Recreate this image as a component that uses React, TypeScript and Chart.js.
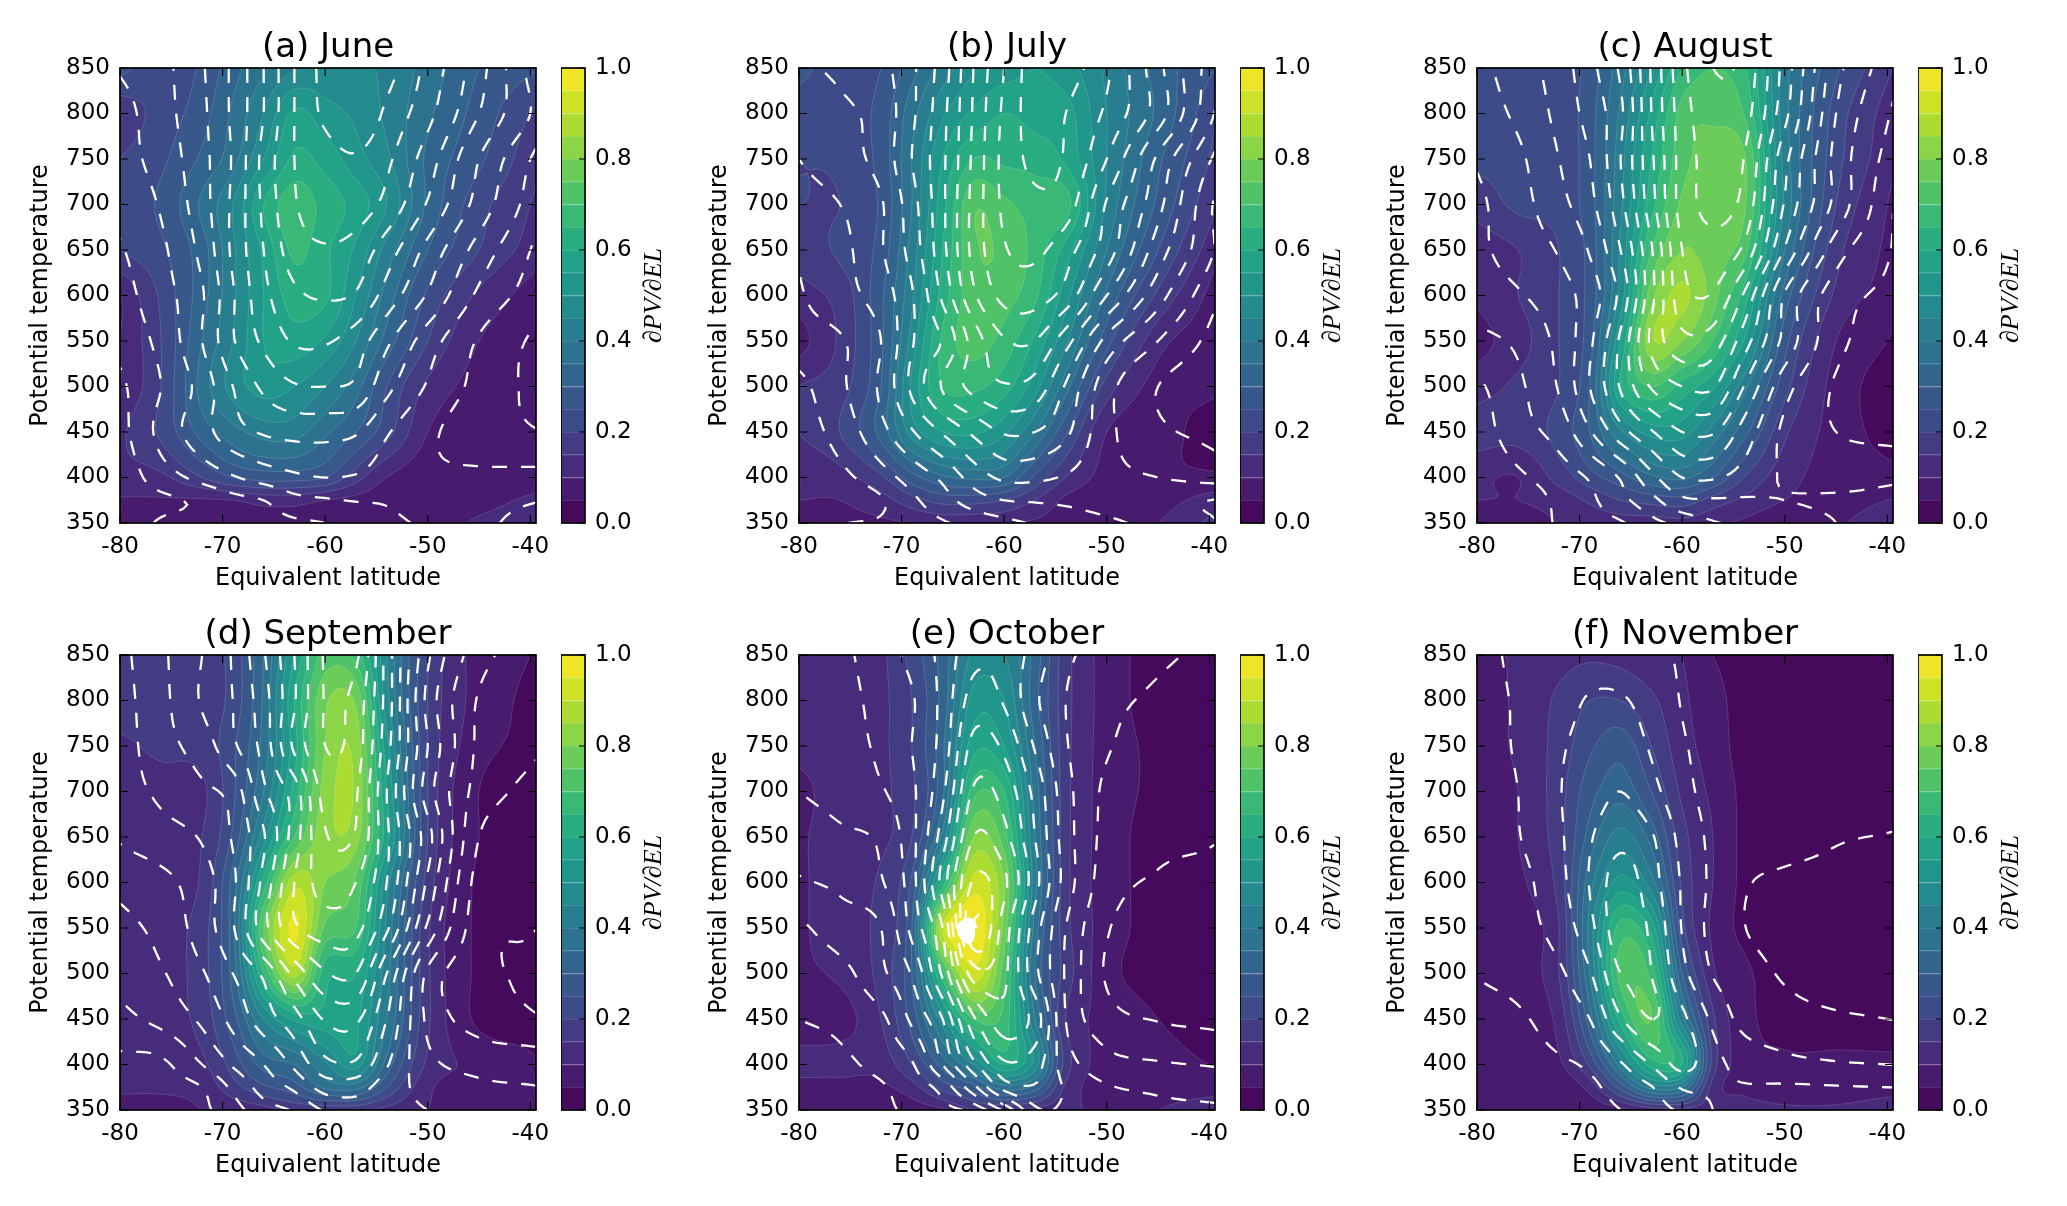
import React, { useEffect, useRef } from "react";
import { Chart, registerables } from "chart.js";

Chart.register(...registerables);

const LATS = [-80, -76, -72, -69, -66, -63, -60, -57, -54, -50, -45, -40];
const THETAS = [850, 800, 750, 700, 650, 600, 550, 500, 450, 400, 375, 350];
const X_TICKS = [-80, -70, -60, -50, -40];
const BAR_TICKS = [0, 0.2, 0.4, 0.6, 0.8, 1];

const PV_JUNE = [
  [.27,.21,.26,.33,.39,.44,.46,.46,.44,.38,.30,.26],
  [.17,.22,.28,.36,.45,.56,.52,.49,.44,.36,.28,.20],
  [.20,.24,.31,.38,.50,.61,.58,.52,.46,.34,.26,.17],
  [.22,.26,.36,.45,.60,.68,.63,.58,.50,.34,.22,.15],
  [.20,.24,.33,.44,.56,.66,.61,.54,.43,.30,.20,.13],
  [.10,.21,.33,.44,.55,.62,.61,.50,.38,.24,.14,.08],
  [.10,.20,.35,.45,.55,.58,.54,.45,.33,.20,.10,.07],
  [.10,.20,.37,.47,.52,.50,.45,.37,.25,.14,.08,.07],
  [.14,.21,.32,.38,.42,.42,.36,.30,.22,.10,.07,.07],
  [.13,.14,.20,.25,.27,.27,.25,.17,.10,.07,.06,.07],
  [.095,.095,.095,.10,.12,.12,.10,.085,.07,.07,.08,.11],
  [.07,.07,.07,.07,.07,.07,.07,.07,.07,.07,.11,.14],
];
const DASH_JUNE = [
  [3.1,3.7,4.9,6.2,8.0,10,11.3,11.8,11.4,9.7,7.4,4.7],
  [2.6,3.6,4.8,6.2,8,10,11.2,11.8,10.8,9.3,7,5],
  [2.6,3.4,4.7,6.1,8.3,10,10.6,10.9,10.2,8.5,6,4],
  [2.3,3.1,4.6,6.2,8.2,9.9,10.5,10.5,9.7,7.9,5.6,3.6],
  [1.9,2.8,4.3,6.2,8,9.5,9.9,9.6,8.5,6.7,4.6,3],
  [1.6,2.6,3.9,5.9,7.7,8.8,9.1,8.9,7.6,5.9,3.8,2.6],
  [1.3,2.3,4,5.9,7.2,8.1,8.1,7.5,6.2,4.5,2.9,1.9],
  [.8,2,3.4,5,6.2,6.9,7,6.8,5.3,3.9,2.7,1.8],
  [.6,2.3,3.6,4.6,5.1,5.3,5.3,5.1,4.1,3.2,2.5,2.1],
  [.3,1.5,2.3,2.9,3.4,3.8,4,3.9,3.5,3.2,3.2,3.3],
  [.4,.8,1.2,1.7,2,2.7,2.9,3.05,3.1,3.5,3.6,3.9],
  [.4,1.1,1.3,1.5,1.6,1.8,2,2.3,2.7,3.2,3.7,4.5],
];
const LEVELS_JUNE = [1,2,3,4,5,6,7,8,9,10,11];

const PV_JULY = [
  [.27,.22,.25,.33,.42,.49,.52,.55,.52,.44,.33,.26],
  [.22,.22,.27,.38,.49,.56,.60,.58,.57,.45,.34,.22],
  [.20,.21,.27,.40,.55,.65,.64,.63,.59,.45,.31,.20],
  [.20,.20,.26,.40,.58,.74,.71,.68,.67,.44,.29,.17],
  [.17,.21,.27,.42,.60,.74,.74,.68,.58,.40,.25,.13],
  [.13,.17,.29,.44,.62,.73,.72,.66,.52,.34,.19,.09],
  [.08,.16,.29,.47,.66,.72,.68,.59,.46,.27,.12,.07],
  [.15,.18,.30,.51,.65,.66,.62,.52,.37,.18,.08,.06],
  [.15,.20,.32,.47,.55,.56,.51,.40,.26,.10,.07,.03],
  [.10,.13,.19,.28,.34,.36,.35,.24,.15,.08,.06,.06],
  [.10,.10,.13,.18,.22,.22,.20,.15,.09,.07,.08,.12],
  [.07,.09,.09,.10,.11,.11,.11,.09,.08,.07,.10,.16],
];
const DASH_JULY = [
  [1.8,2.2,2.7,3.8,5.5,8,10,11.5,11.4,10.2,7.3,4.6],
  [1.3,1.8,2.4,3.8,5.7,8.1,10.2,11.4,11,9.8,7.5,4.3],
  [1,1.6,2.4,4,5.8,8.2,10.3,11.2,10.9,9,5.8,3.1],
  [.5,1,1.9,3.6,5.8,8.3,10.2,10.8,10.5,7.9,5.3,2.2],
  [.1,.7,1.9,3.4,5.7,8.3,9.9,10.2,9.4,7.5,4.5,2.2],
  [-.1,.6,1.5,2.9,5.2,7.8,9.3,9.4,8.6,6,3.4,1.4],
  [-.4,-.1,1,2.9,4.1,6.4,7.9,8,6.4,3.7,2,.8],
  [-1.3,-.2,1.2,3.2,5.1,6.3,6.9,6.6,4.9,2.4,1,.5],
  [-1.6,-.6,.7,1.9,3.1,4.2,5.1,5,4.2,2.3,1.2,.8],
  [-2,-1.3,-.4,.4,1.2,2.4,3.2,3.2,2.9,2.3,2,1.7],
  [-2.2,-1.8,-1.1,-.2,.6,1.5,2,2.1,2.2,2.4,2.7,3],
  [-2.3,-1.1,-.9,-.5,-.1,.3,.7,1.1,1.4,1.8,2.3,2.9],
];
const LEVELS_JULY = [-1,0,1,2,3,4,5,6,7,8,9,10,11];

const PV_AUGUST = [
  [.22,.21,.22,.27,.38,.50,.65,.70,.66,.42,.26,.16],
  [.21,.21,.22,.28,.41,.56,.72,.74,.70,.42,.23,.13],
  [.21,.21,.22,.28,.43,.60,.73,.77,.76,.43,.22,.12],
  [.17,.21,.22,.28,.44,.63,.76,.78,.76,.44,.20,.10],
  [.12,.15,.20,.27,.46,.70,.80,.77,.72,.40,.17,.09],
  [.11,.15,.20,.27,.47,.78,.86,.77,.63,.33,.14,.08],
  [.08,.13,.20,.28,.55,.84,.80,.70,.55,.27,.10,.05],
  [.13,.16,.20,.30,.60,.70,.63,.56,.42,.22,.08,.03],
  [.17,.17,.22,.30,.44,.52,.52,.43,.32,.16,.08,.03],
  [.11,.10,.17,.23,.28,.34,.36,.30,.20,.12,.08,.07],
  [.10,.10,.12,.16,.20,.22,.23,.18,.14,.10,.08,.10],
  [.06,.08,.10,.11,.12,.12,.13,.11,.09,.06,.09,.14],
];
const DASH_AUGUST = [
  [.7,1.5,2.5,3.7,5.2,8.1,10.7,12,11.7,8.6,4.4,2.5],
  [.5,1.2,2.3,3.4,4.8,8,10.5,11.6,11.4,8.3,4,2.1],
  [.1,.8,2,3,5,7.8,10.4,11.3,11,7.3,3.7,1.7],
  [-.2,.6,1.7,2.7,4.7,7.6,10.4,11.2,10.7,6.9,3.7,1.3],
  [-.2,.4,1.1,2.1,4,6.9,10,10.7,9.8,5.9,2.5,1.1],
  [-.5,-.1,.6,1.5,3.3,6.7,9.6,9.9,7.9,3.9,1.5,.8],
  [-1.3,-.8,.3,1.8,4.2,7.2,8.7,8.5,6.5,3.7,1.3,.6],
  [-2.2,-1.2,.1,2,4.1,6.1,7,7.1,5,2.4,.9,.4],
  [-2.6,-1.4,-.6,.9,2.6,3.9,5,5.1,3.6,1.8,1,.7],
  [-3,-2.2,-1.5,-.9,.1,1.7,3,3.1,2.6,1.9,1.7,1.85],
  [-3.1,-2.6,-1.8,-1.2,-.3,.7,1.8,1.9,1.9,2,2.1,2.2],
  [-2.9,-2.5,-1.9,-1.4,-1.1,-.3,.3,.9,1.2,1.5,2,2.4],
];
const LEVELS_AUGUST = [-2,-1,0,1,2,3,4,5,6,7,8,9,10,11,12];

const PV_SEPTEMBER = [
  [.17,.17,.17,.22,.35,.55,.72,.68,.45,.20,.08,.05],
  [.18,.17,.17,.22,.36,.60,.79,.79,.47,.20,.08,.04],
  [.14,.16,.17,.24,.37,.58,.80,.83,.52,.20,.07,.04],
  [.13,.13,.14,.24,.40,.62,.82,.84,.55,.20,.05,.03],
  [.13,.13,.15,.26,.48,.70,.83,.82,.57,.20,.05,.03],
  [.12,.12,.16,.32,.62,.88,.80,.74,.47,.18,.04,.03],
  [.12,.13,.18,.33,.75,.96,.74,.70,.44,.16,.04,.03],
  [.12,.13,.18,.32,.65,.87,.62,.60,.42,.16,.04,.03],
  [.12,.13,.17,.28,.45,.56,.58,.56,.40,.16,.04,.03],
  [.12,.12,.14,.22,.32,.35,.44,.52,.33,.14,.09,.06],
  [.11,.11,.12,.18,.24,.28,.36,.37,.25,.11,.09,.08],
  [.07,.07,.10,.11,.13,.16,.16,.16,.13,.10,.09,.09],
];
const DASH_SEPTEMBER = [
  [4.7,5.8,7,8.1,9.9,12,14.1,14.2,10.6,6.2,3.4,2.6],
  [4.6,5.7,7.1,8,9.6,11.9,14.05,13.6,10.6,5.7,2.9,2.4],
  [4.5,5.6,6.5,7.8,9.4,12.2,14,13.5,10.4,6,2.8,2.2],
  [4.5,5.2,5.8,6.4,8.8,10.5,13.4,13.1,10,5.5,2.6,1.75],
  [4.1,4.6,5.1,6.1,7.9,10.5,12.9,12.9,10.2,6.4,2,1.6],
  [3.3,3.7,4.6,5.8,8.3,11,12.4,12,10,5.8,1.6,1.4],
  [2.7,3.3,4.5,5.9,8.6,10.8,11.5,11.3,9.2,4.8,1.4,1.05],
  [2.3,2.9,3.9,5,6.2,8.3,9.9,10,7,2.8,1.3,.85],
  [1.7,2.3,3.2,4.3,5.5,6.6,8.1,8.2,6,2.8,1.6,1.15],
  [.7,.8,2,3.1,4,5.2,6.7,6.8,5.1,3.3,2.7,2.6],
  [.3,.6,1,2.2,3.4,4.2,5.4,5.4,4.5,3.7,3.2,3.05],
  [.1,.4,.8,1.6,2.6,3.1,4.1,4.5,4.3,4,3.7,3.6],
];
const LEVELS_SEPTEMBER = [1,2,3,4,5,6,7,8,9,10,11,12,13,14];

const PV_OCTOBER = [
  [.13,.14,.14,.22,.32,.46,.45,.33,.17,.08,.03,.03],
  [.13,.14,.14,.20,.32,.52,.50,.32,.17,.08,.03,.03],
  [.12,.13,.14,.20,.34,.58,.55,.35,.17,.08,.04,.03],
  [.08,.13,.14,.19,.34,.68,.65,.38,.17,.08,.04,.03],
  [.09,.13,.14,.20,.42,.80,.72,.40,.17,.08,.03,.03],
  [.09,.13,.16,.26,.62,.92,.80,.42,.17,.08,.03,.03],
  [.09,.13,.17,.30,.90,1.005,.78,.38,.17,.08,.03,.03],
  [.09,.11,.17,.30,.68,.93,.72,.35,.18,.07,.03,.03],
  [.07,.08,.15,.27,.48,.70,.68,.40,.15,.09,.05,.03],
  [.115,.115,.12,.20,.32,.45,.60,.48,.18,.08,.07,.05],
  [.085,.085,.09,.13,.22,.28,.38,.33,.14,.08,.08,.08],
  [.06,.06,.06,.07,.09,.15,.15,.13,.11,.09,.10,.13],
];
const DASH_OCTOBER = [
  [3.5,3.8,4.5,5.3,6.3,7.7,7.6,6.6,5.2,4.8,4.2,3.8],
  [3.4,3.7,4.3,4.9,6.3,8.4,7.9,6.2,5,4.3,3.8,3.4],
  [3.3,3.6,4.2,5,6.4,9.3,8.8,6.9,5.1,4.1,3.5,3.3],
  [3,3.4,3.9,4.8,6.8,10.1,9.6,7.7,5.4,3.8,3.3,3.2],
  [2.3,2.8,3.2,4.7,7.5,11,10.3,8,5.5,3.7,3.2,3.05],
  [1.9,2.2,2.9,4.6,8.4,12.1,11.2,8.4,5.6,3.5,2.9,2.8],
  [.8,1.5,2,4.3,7,12.9,10.5,7.5,5,3.1,2.5,2.4],
  [.4,.7,1.8,3.1,6.2,10.5,10.2,7.3,4.9,2.9,2.5,2.5],
  [0,.2,.8,2.2,4,7.8,9.6,8.6,5,3.4,2.95,2.8],
  [-.4,-.2,.3,.9,3,5.7,7.8,7.4,5.5,4.4,4.1,3.95],
  [-.9,-.5,-.1,.5,1.4,3.7,6.4,6.9,5.9,5.1,4.8,4.6],
  [-1.1,-.7,-.2,.2,.7,1.3,3.2,5.8,5.9,5.7,5.3,5.2],
];
const LEVELS_OCTOBER = [0,1,2,3,4,5,6,7,8,9,10,11,12,13];

const PV_NOVEMBER = [
  [.07,.11,.13,.14,.13,.11,.10,.05,.03,.03,.03,.03],
  [.07,.11,.16,.20,.20,.16,.11,.07,.03,.03,.03,.03],
  [.07,.11,.17,.24,.28,.20,.12,.08,.03,.03,.03,.03],
  [.07,.10,.18,.28,.33,.25,.14,.09,.04,.03,.03,.03],
  [.06,.10,.18,.32,.42,.33,.17,.10,.04,.03,.03,.03],
  [.06,.09,.17,.38,.52,.42,.19,.10,.04,.03,.03,.03],
  [.06,.08,.15,.42,.67,.58,.22,.09,.04,.03,.03,.03],
  [.06,.08,.15,.40,.72,.68,.30,.11,.06,.03,.03,.03],
  [.06,.07,.12,.33,.62,.75,.42,.16,.07,.03,.03,.03],
  [.06,.06,.09,.21,.42,.62,.60,.18,.08,.06,.06,.06],
  [.06,.06,.06,.12,.27,.42,.40,.13,.09,.07,.07,.08],
  [.06,.06,.06,.06,.08,.12,.13,.12,.12,.11,.11,.13],
];
const DASH_NOVEMBER = [
  [1.6,2.2,2.3,2.4,2.4,2.2,1.9,1.6,1.4,1.35,1.3,1.25],
  [1.6,2.1,2.5,3.1,3.1,2.6,1.95,1.6,1.4,1.35,1.3,1.25],
  [1.6,2.1,2.85,3.4,3.5,2.9,2.1,1.7,1.5,1.35,1.3,1.25],
  [1.5,2,2.95,3.5,4,3.3,2.3,1.7,1.5,1.35,1.25,1.2],
  [1.3,1.95,2.85,3.9,4.7,4.1,2.7,1.8,1.5,1.3,1.05,.98],
  [1.35,1.7,2.7,4.05,5.5,4.4,2.9,1.8,1.1,.85,.8,.75],
  [1.3,1.65,2.4,3.7,5.6,4.8,2.95,1.7,1.03,.7,.7,.7],
  [1.05,1.35,1.85,2.9,5,5,3.3,1.95,1.4,.9,.55,.5],
  [.5,.85,1.45,2,3.9,5,4.2,2.8,1.7,1.4,1.15,1],
  [.2,.5,.85,1.15,1.9,3.05,4.3,3.3,2.7,2.3,2.1,2],
  [.1,.2,.5,.8,1.4,1.95,3.1,3.1,3.05,3.1,3.05,3],
  [.1,.1,.3,.6,1,1.5,2.2,3,3.2,3.3,3.3,3.3],
];
const LEVELS_NOVEMBER = [1,2,3,4,5];

const PANELS = [
  { title: "(a) June", pv: PV_JUNE, dash: DASH_JUNE, levels: LEVELS_JUNE },
  { title: "(b) July", pv: PV_JULY, dash: DASH_JULY, levels: LEVELS_JULY },
  { title: "(c) August", pv: PV_AUGUST, dash: DASH_AUGUST, levels: LEVELS_AUGUST },
  { title: "(d) September", pv: PV_SEPTEMBER, dash: DASH_SEPTEMBER, levels: LEVELS_SEPTEMBER },
  { title: "(e) October", pv: PV_OCTOBER, dash: DASH_OCTOBER, levels: LEVELS_OCTOBER },
  { title: "(f) November", pv: PV_NOVEMBER, dash: DASH_NOVEMBER, levels: LEVELS_NOVEMBER },
];

const SANS = "'DejaVu Sans'";
const X_MAX = -39.45;
const BAND = 0.05;
const NBANDS = 20;
const VIRIDIS = ["#440154","#482475","#414487","#355f8d","#2a788e","#21908d","#22a884","#42be71","#7ad151","#bddf26","#fde725"];

function rgbAt(t: number): number[] {
  const p = Math.min(0.9999, Math.max(0, t)) * 10;
  const i = Math.floor(p);
  const f = p - i;
  const h = (s: string) => [1, 3, 5].map((k) => parseInt(s.slice(k, k + 2), 16));
  const a = h(VIRIDIS[i]);
  const b = h(VIRIDIS[i + 1]);
  return a.map((v, k) => Math.round(v + (b[k] - v) * f));
}
const BAND_RGB = Array.from({ length: NBANDS }, (_, i) => rgbAt((i + 0.5) / NBANDS));

function hermite(xs: number[], ys: number[], x: number): number {
  const n = xs.length;
  const slope = (i: number) => {
    if (i === 0) return (ys[1] - ys[0]) / (xs[1] - xs[0]);
    if (i === n - 1) return (ys[n - 1] - ys[n - 2]) / (xs[n - 1] - xs[n - 2]);
    const a = (ys[i] - ys[i - 1]) / (xs[i] - xs[i - 1]);
    const b = (ys[i + 1] - ys[i]) / (xs[i + 1] - xs[i]);
    return (a + b) / 2;
  };
  if (x >= xs[n - 1]) return ys[n - 1] + slope(n - 1) * (x - xs[n - 1]);
  let i = 0;
  while (i < n - 2 && x > xs[i + 1]) i++;
  const h = xs[i + 1] - xs[i];
  const t = (x - xs[i]) / h;
  const m0 = slope(i) * h;
  const m1 = slope(i + 1) * h;
  return (2 * t ** 3 - 3 * t ** 2 + 1) * ys[i] + (t ** 3 - 2 * t ** 2 + t) * m0 + (-2 * t ** 3 + 3 * t ** 2) * ys[i + 1] + (t ** 3 - t ** 2) * m1;
}

const NX = 205;
const NY = 201;
const FX = Array.from({ length: NX }, (_, i) => -80 + ((X_MAX + 80) * i) / (NX - 1));
const FY = Array.from({ length: NY }, (_, j) => 350 + (500 * j) / (NY - 1));

function resample(rows: number[][]): number[][] {
  const asc = [...THETAS].reverse();
  const r = [...rows].reverse();
  const cols = LATS.map((_, i) => FY.map((y) => hermite(asc, r.map((row) => row[i]), y)));
  return FY.map((_, j) => FX.map((x) => hermite(LATS, cols.map((c) => c[j]), x)));
}

function contour(g: number[][], level: number): { x: number; y: number }[][] {
  const pts = new Map<number, { x: number; y: number }>();
  const adj = new Map<number, number[]>();
  const hid = (j: number, i: number) => 2 * (j * NX + i);
  const vid = (j: number, i: number) => 2 * (j * NX + i) + 1;
  const link = (a: number, b: number) => {
    if (!adj.has(a)) adj.set(a, []);
    if (!adj.has(b)) adj.set(b, []);
    adj.get(a)!.push(b);
    adj.get(b)!.push(a);
  };
  for (let j = 0; j < NY - 1; j++) {
    for (let i = 0; i < NX - 1; i++) {
      const a = g[j][i], b = g[j][i + 1], c = g[j + 1][i + 1], d = g[j + 1][i];
      const A = a >= level, B = b >= level, C = c >= level, D = d >= level;
      const cross: number[] = [];
      const add = (id: number, v0: number, v1: number, x0: number, y0: number, x1: number, y1: number) => {
        if (!pts.has(id)) {
          const t = (level - v0) / (v1 - v0);
          pts.set(id, { x: x0 + (x1 - x0) * t, y: y0 + (y1 - y0) * t });
        }
        cross.push(id);
      };
      if (A !== B) add(hid(j, i), a, b, FX[i], FY[j], FX[i + 1], FY[j]);
      if (B !== C) add(vid(j, i + 1), b, c, FX[i + 1], FY[j], FX[i + 1], FY[j + 1]);
      if (C !== D) add(hid(j + 1, i), d, c, FX[i], FY[j + 1], FX[i + 1], FY[j + 1]);
      if (D !== A) add(vid(j, i), a, d, FX[i], FY[j], FX[i], FY[j + 1]);
      if (cross.length === 2) link(cross[0], cross[1]);
      else if (cross.length === 4) {
        if ((a + b + c + d) / 4 >= level === A) {
          link(cross[0], cross[1]);
          link(cross[2], cross[3]);
        } else {
          link(cross[0], cross[3]);
          link(cross[1], cross[2]);
        }
      }
    }
  }
  const used = new Set<number>();
  const lines: { x: number; y: number }[][] = [];
  const walk = (start: number) => {
    const line = [start];
    used.add(start);
    let cur = start;
    for (;;) {
      const next = adj.get(cur)!.find((n) => !used.has(n));
      if (next === undefined) break;
      used.add(next);
      line.push(next);
      cur = next;
    }
    const closed = line.length > 3 && adj.get(cur)!.includes(start);
    const out = line.filter((_, k) => k % 3 === 0 || k === line.length - 1).map((id) => pts.get(id)!);
    if (closed) out.push(pts.get(start)!);
    if (line.length > 2) lines.push(out);
  };
  adj.forEach((n, id) => { if (n.length === 1 && !used.has(id)) walk(id); });
  adj.forEach((_, id) => { if (!used.has(id)) walk(id); });
  return lines;
}

function rasterPlugin(pvFine: number[][], bandLines: { x: number; y: number }[][]) {
  return {
    id: "contourFill",
    beforeDatasetsDraw(chart: any) {
      const { ctx, chartArea: ca, scales } = chart;
      const w = Math.ceil(ca.right - ca.left);
      const h = Math.ceil(ca.bottom - ca.top);
      const off = document.createElement("canvas");
      off.width = w;
      off.height = h;
      const octx = off.getContext("2d")!;
      const img = octx.createImageData(w, h);
      for (let py = 0; py < h; py++) {
        const th = scales.y.getValueForPixel(ca.top + py + 0.5);
        const fy = Math.min(NY - 1.001, Math.max(0, ((th - 350) / 500) * (NY - 1)));
        const j = Math.floor(fy);
        const ty = fy - j;
        for (let px = 0; px < w; px++) {
          const la = scales.x.getValueForPixel(ca.left + px + 0.5);
          const fx = Math.min(NX - 1.001, Math.max(0, ((la + 80) / (X_MAX + 80)) * (NX - 1)));
          const i = Math.floor(fx);
          const tx = fx - i;
          const v =
            pvFine[j][i] * (1 - tx) * (1 - ty) + pvFine[j][i + 1] * tx * (1 - ty) +
            pvFine[j + 1][i] * (1 - tx) * ty + pvFine[j + 1][i + 1] * tx * ty;
          const o = 4 * (py * w + px);
          const c = v >= 1 ? [255, 255, 255] : BAND_RGB[Math.max(0, Math.floor(v / BAND))];
          img.data[o] = c[0];
          img.data[o + 1] = c[1];
          img.data[o + 2] = c[2];
          img.data[o + 3] = 255;
        }
      }
      octx.putImageData(img, 0, 0);
      ctx.drawImage(off, ca.left, ca.top);
      ctx.save();
      ctx.beginPath();
      ctx.rect(ca.left, ca.top, ca.right - ca.left, ca.bottom - ca.top);
      ctx.clip();
      ctx.strokeStyle = "rgba(255,255,255,0.18)";
      ctx.lineWidth = 0.8;
      for (const line of bandLines) {
        ctx.beginPath();
        line.forEach((p, k) => {
          const X = scales.x.getPixelForValue(p.x);
          const Y = scales.y.getPixelForValue(p.y);
          if (k) ctx.lineTo(X, Y);
          else ctx.moveTo(X, Y);
        });
        ctx.stroke();
      }
      ctx.restore();
    },
    afterDatasetsDraw(chart: any) {
      const { ctx, chartArea: ca, scales } = chart;
      ctx.save();
      ctx.strokeStyle = "#000";
      ctx.lineWidth = 1.1;
      const TL = 8;
      ctx.beginPath();
      scales.x.ticks.forEach((t: any) => {
        const X = scales.x.getPixelForValue(t.value);
        ctx.moveTo(X, ca.top);
        ctx.lineTo(X, ca.top + TL);
        ctx.moveTo(X, ca.bottom);
        ctx.lineTo(X, ca.bottom - TL);
      });
      scales.y.ticks.forEach((t: any) => {
        const Y = scales.y.getPixelForValue(t.value);
        ctx.moveTo(ca.left, Y);
        ctx.lineTo(ca.left + TL, Y);
        ctx.moveTo(ca.right, Y);
        ctx.lineTo(ca.right - TL, Y);
      });
      ctx.stroke();
      ctx.lineWidth = 1.7;
      ctx.strokeRect(ca.left, ca.top, ca.right - ca.left, ca.bottom - ca.top);
      ctx.restore();
    },
  };
}

const barPlugin = {
  id: "barFrame",
  afterDraw(chart: any) {
    const { ctx, chartArea: ca, scales } = chart;
    ctx.save();
    ctx.strokeStyle = "#000";
    ctx.lineWidth = 1.1;
    ctx.beginPath();
    scales.y.ticks.forEach((t: any) => {
      const Y = scales.y.getPixelForValue(t.value);
      ctx.moveTo(ca.right, Y);
      ctx.lineTo(ca.right - 6, Y);
    });
    ctx.stroke();
    ctx.lineWidth = 1.7;
    ctx.strokeRect(ca.left, ca.top, ca.right - ca.left, ca.bottom - ca.top);
    ctx.translate(ca.right + 69, (ca.top + ca.bottom) / 2);
    ctx.rotate(-Math.PI / 2);
    ctx.fillStyle = "#000";
    ctx.font = "italic 26px 'Liberation Serif'";
    ctx.textAlign = "center";
    ctx.textBaseline = "middle";
    ctx.fillText("∂PV/∂EL", 0, 0);
    ctx.restore();
  },
};

const COL_LEFT = [120, 799, 1477];
const ROW_TOP = [68, 655];
const PLOT_W = 416;
const PLOT_H = 455;
const Y_AXIS_W = 94;
const X_AXIS_H = 70;
const TITLE_H = 40;
const RIGHT_PAD = 30;
const BAR_OFFSET = 441;
const BAR_W = 24;
const BAR_PAD = 30;
const BAR_RIGHT = 110;
const TICK_SIZE = 23;
const LABEL_SIZE = 23.9;

function Panel({ index }: { index: number }) {
  const main = useRef<HTMLCanvasElement>(null);
  const bar = useRef<HTMLCanvasElement>(null);
  const panel = PANELS[index];
  const left = COL_LEFT[index % 3];
  const top = ROW_TOP[Math.floor(index / 3)];

  useEffect(() => {
    const pvFine = resample(panel.pv);
    const dashFine = resample(panel.dash);
    const bandLines: { x: number; y: number }[][] = [];
    for (let k = 1; k < NBANDS; k++) bandLines.push(...contour(pvFine, k * BAND));
    const dashLines = panel.levels.flatMap((l) => contour(dashFine, l));
    const gridPoints = panel.pv.flatMap((row, j) => row.map((v, i) => ({ x: LATS[i], y: THETAS[j], v })));
    const chart = new Chart(main.current!, {
      type: "scatter",
      data: {
        datasets: [
          { label: "dPV/dEL", data: gridPoints as any, pointRadius: 0, showLine: false },
          ...dashLines.map((line) => ({
            data: line,
            showLine: true,
            pointRadius: 0,
            borderColor: "#ffffff",
            borderWidth: 2.3,
            borderDash: [15, 14],
            tension: 0,
          })),
        ],
      },
      options: {
        responsive: false,
        animation: false,
        devicePixelRatio: 1,
        parsing: false,
        normalized: true,
        layout: { autoPadding: false, padding: { right: RIGHT_PAD, left: 0, top: 0, bottom: 0 } },
        plugins: {
          legend: { display: false },
          tooltip: { enabled: false },
          title: {
            display: true,
            fullSize: false,
            text: panel.title,
            color: "#000",
            font: { family: SANS, size: 34, weight: "normal", lineHeight: 1 },
            padding: { top: 3, bottom: TITLE_H - 37 },
          },
        },
        scales: {
          x: {
            type: "linear",
            min: -80,
            max: X_MAX,
            afterFit: (s: any) => { s.height = X_AXIS_H; },
            afterBuildTicks: (s: any) => { s.ticks = X_TICKS.map((value) => ({ value })); },
            grid: { display: false, drawTicks: false },
            border: { display: false },
            ticks: { color: "#000", font: { family: SANS, size: TICK_SIZE }, padding: 10, maxRotation: 0, autoSkip: false, callback: (v: any) => String(v) },
            title: { display: true, text: "Equivalent latitude", color: "#000", font: { family: SANS, size: LABEL_SIZE }, padding: 0 },
          },
          y: {
            type: "linear",
            min: 350,
            max: 850,
            afterFit: (s: any) => { s.width = Y_AXIS_W; },
            grid: { display: false, drawTicks: false },
            border: { display: false },
            ticks: { stepSize: 50, color: "#000", font: { family: SANS, size: TICK_SIZE }, padding: 10, autoSkip: false, callback: (v: any) => String(v) },
            title: { display: true, text: "Potential temperature", color: "#000", font: { family: SANS, size: LABEL_SIZE }, padding: 0 },
          },
        },
      } as any,
      plugins: [rasterPlugin(pvFine, bandLines)],
    });
    const colourbar = new Chart(bar.current!, {
      type: "bar",
      data: {
        labels: [""],
        datasets: BAND_RGB.map((c) => ({
          data: [BAND],
          backgroundColor: `rgb(${c.join(",")})`,
          borderWidth: { top: 1, bottom: 0, left: 0, right: 0 },
          borderColor: `rgb(${c.map((v) => Math.round(v + (255 - v) * 0.15)).join(",")})`,
          barPercentage: 1,
          categoryPercentage: 1,
          stack: "cb",
        })),
      },
      options: {
        responsive: false,
        animation: false,
        devicePixelRatio: 1,
        layout: { autoPadding: false, padding: { top: BAR_PAD, bottom: BAR_PAD, left: 0, right: 0 } },
        plugins: { legend: { display: false }, tooltip: { enabled: false } },
        scales: {
          x: { stacked: true, display: false },
          y: {
            stacked: true,
            position: "right",
            min: 0,
            max: 1,
            afterFit: (s: any) => { s.width = BAR_RIGHT; s.paddingTop = 0; s.paddingBottom = 0; },
            afterBuildTicks: (s: any) => { s.ticks = BAR_TICKS.map((value) => ({ value })); },
            grid: { display: false, drawTicks: false },
            border: { display: false },
            ticks: { color: "#000", font: { family: SANS, size: TICK_SIZE }, padding: 10, autoSkip: false, callback: (v: any) => Number(v).toFixed(1) },
          },
        },
      } as any,
      plugins: [barPlugin],
    });
    return () => {
      chart.destroy();
      colourbar.destroy();
    };
  }, []);

  return (
    <>
      <canvas
        ref={main}
        width={Y_AXIS_W + PLOT_W + RIGHT_PAD}
        height={TITLE_H + PLOT_H + X_AXIS_H}
        style={{ position: "absolute", left: left - Y_AXIS_W, top: top - TITLE_H }}
      />
      <canvas
        ref={bar}
        width={BAR_W + BAR_RIGHT}
        height={PLOT_H + 2 * BAR_PAD}
        style={{ position: "absolute", left: left + BAR_OFFSET, top: top - BAR_PAD }}
      />
    </>
  );
}

export default function App() {
  return (
    <div style={{ position: "absolute", left: 0, top: 0, width: 2067, height: 1206, background: "#fff", overflow: "hidden" }}>
      {PANELS.map((_, i) => (
        <Panel key={i} index={i} />
      ))}
    </div>
  );
}
